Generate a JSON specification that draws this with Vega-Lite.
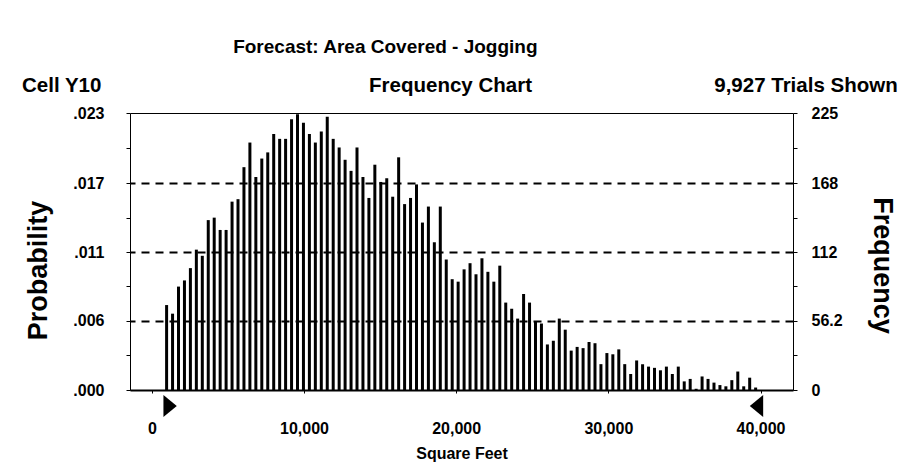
{
  "$schema": "https://vega.github.io/schema/vega-lite/v6.json",
  "width": 663,
  "height": 277,
  "autosize": {"type": "none"},
  "padding": {"left": 130, "top": 113, "right": 123, "bottom": 82},
  "background": "white",
  "config": {
    "font": "Liberation Sans",
    "view": {"stroke": "black", "strokeWidth": 1},
    "axis": {"labelFont": "Liberation Sans", "labelFontWeight": "bold", "labelColor": "black", "titleFont": "Liberation Sans", "titleFontWeight": "bold", "titleColor": "black", "tickColor": "black", "domain": false}
  },
  "title": {
    "text": "\u200b\u00a0\u00a0\u00a0\u00a0\u00a0\u00a0\u00a0\u00a0\u00a0\u00a0\u00a0\u00a0\u00a0\u00a0\u00a0\u00a0\u00a0\u00a0\u00a0\u00a0\u00a0\u00a0\u00a0\u00a0\u00a0\u00a0\u00a0\u00a0\u00a0\u00a0\u00a0\u00a0\u00a0\u00a0\u00a0\u00a0\u00a0\u00a0\u00a0\u00a0Forecast: Area Covered - Jogging",
    "subtitle": "Cell Y10\u00a0\u00a0\u00a0\u00a0\u00a0\u00a0\u00a0\u00a0\u00a0\u00a0\u00a0\u00a0\u00a0\u00a0\u00a0\u00a0\u00a0\u00a0\u00a0\u00a0\u00a0\u00a0\u00a0\u00a0\u00a0\u00a0\u00a0\u00a0\u00a0\u00a0\u00a0\u00a0\u00a0\u00a0\u00a0\u00a0\u00a0\u00a0\u00a0\u00a0\u00a0\u00a0\u00a0\u00a0\u00a0\u00a0\u00a0Frequency Chart\u00a0\u00a0\u00a0\u00a0\u00a0\u00a0\u00a0\u00a0\u00a0\u00a0\u00a0\u00a0\u00a0\u00a0\u00a0\u00a0\u00a0\u00a0\u00a0\u00a0\u00a0\u00a0\u00a0\u00a0\u00a0\u00a0\u00a0\u00a0\u00a0\u00a0\u00a0\u00a09,927 Trials Shown",
    "anchor": "start",
    "frame": "group",
    "dx": -108,
    "font": "Liberation Sans",
    "fontSize": 19,
    "fontWeight": "bold",
    "color": "black",
    "subtitleFont": "Liberation Sans",
    "subtitleFontSize": 20.5,
    "subtitleFontWeight": "bold",
    "subtitleColor": "black",
    "subtitlePadding": 19,
    "offset": 9
  },
  "datasets": {
    "bins": [
      {"sqft": 970, "count": 69}, {"sqft": 1361, "count": 62}, {"sqft": 1752, "count": 84}, {"sqft": 2143, "count": 89}, {"sqft": 2534, "count": 99},
      {"sqft": 2925, "count": 114}, {"sqft": 3316, "count": 109}, {"sqft": 3707, "count": 138}, {"sqft": 4098, "count": 140}, {"sqft": 4489, "count": 130},
      {"sqft": 4880, "count": 130}, {"sqft": 5271, "count": 153}, {"sqft": 5662, "count": 155}, {"sqft": 6053, "count": 181}, {"sqft": 6444, "count": 201},
      {"sqft": 6835, "count": 173}, {"sqft": 7226, "count": 188}, {"sqft": 7617, "count": 193}, {"sqft": 8008, "count": 208}, {"sqft": 8399, "count": 204},
      {"sqft": 8790, "count": 204}, {"sqft": 9181, "count": 220}, {"sqft": 9572, "count": 224}, {"sqft": 9963, "count": 217}, {"sqft": 10354, "count": 208},
      {"sqft": 10745, "count": 201}, {"sqft": 11136, "count": 210}, {"sqft": 11527, "count": 222}, {"sqft": 11918, "count": 204}, {"sqft": 12309, "count": 197},
      {"sqft": 12700, "count": 187}, {"sqft": 13091, "count": 178}, {"sqft": 13482, "count": 197}, {"sqft": 13873, "count": 173}, {"sqft": 14264, "count": 156},
      {"sqft": 14655, "count": 183}, {"sqft": 15046, "count": 169}, {"sqft": 15437, "count": 172}, {"sqft": 15828, "count": 157}, {"sqft": 16219, "count": 189},
      {"sqft": 16610, "count": 151}, {"sqft": 17001, "count": 156}, {"sqft": 17392, "count": 167}, {"sqft": 17783, "count": 136}, {"sqft": 18174, "count": 149},
      {"sqft": 18565, "count": 120}, {"sqft": 18956, "count": 149}, {"sqft": 19347, "count": 106}, {"sqft": 19738, "count": 90}, {"sqft": 20129, "count": 88},
      {"sqft": 20520, "count": 98}, {"sqft": 20911, "count": 103}, {"sqft": 21302, "count": 94}, {"sqft": 21693, "count": 107}, {"sqft": 22084, "count": 96},
      {"sqft": 22475, "count": 88}, {"sqft": 22866, "count": 101}, {"sqft": 23257, "count": 71}, {"sqft": 23648, "count": 66}, {"sqft": 24039, "count": 58},
      {"sqft": 24430, "count": 78}, {"sqft": 24821, "count": 71}, {"sqft": 25212, "count": 56}, {"sqft": 25603, "count": 54}, {"sqft": 25994, "count": 37},
      {"sqft": 26385, "count": 40}, {"sqft": 26776, "count": 58}, {"sqft": 27167, "count": 49}, {"sqft": 27558, "count": 32}, {"sqft": 27949, "count": 35},
      {"sqft": 28340, "count": 34}, {"sqft": 28731, "count": 39}, {"sqft": 29122, "count": 38}, {"sqft": 29513, "count": 21}, {"sqft": 29904, "count": 30},
      {"sqft": 30295, "count": 29}, {"sqft": 30686, "count": 33}, {"sqft": 31077, "count": 21}, {"sqft": 31468, "count": 13}, {"sqft": 31859, "count": 24},
      {"sqft": 32250, "count": 21}, {"sqft": 32641, "count": 19}, {"sqft": 33032, "count": 18}, {"sqft": 33423, "count": 16}, {"sqft": 33814, "count": 19},
      {"sqft": 34205, "count": 13}, {"sqft": 34596, "count": 19}, {"sqft": 34987, "count": 7}, {"sqft": 35378, "count": 9}, {"sqft": 35769, "count": 1},
      {"sqft": 36160, "count": 11}, {"sqft": 36551, "count": 9}, {"sqft": 36942, "count": 6}, {"sqft": 37333, "count": 4}, {"sqft": 37724, "count": 3},
      {"sqft": 38115, "count": 8}, {"sqft": 38506, "count": 15}, {"sqft": 38897, "count": 3}, {"sqft": 39288, "count": 10}, {"sqft": 39679, "count": 2}
    ],
    "grabbers": [
      {"sqft": 1200, "side": "left"},
      {"sqft": 39735, "side": "right"}
    ]
  },
  "encoding": {
    "x": {
      "field": "sqft",
      "type": "quantitative",
      "scale": {"domain": [-1107, 41806], "nice": false, "zero": false},
      "axis": {
        "values": [0, 10000, 20000, 30000, 40000],
        "labelExpr": "format(datum.value, ',.0f')",
        "title": "Square Feet",
        "labelFontSize": 16,
        "labelPadding": 27,
        "tickSize": 3,
        "grid": false,
        "domain": true,
        "domainColor": "black",
        "domainWidth": 2,
        "titleFontSize": 16,
        "titlePadding": 9
      }
    }
  },
  "layer": [
    {
      "data": {"name": "bins"},
      "mark": {"type": "bar", "orient": "vertical", "size": 3, "color": "black"},
      "encoding": {
        "y": {
          "field": "count",
          "type": "quantitative",
          "scale": {"domain": [0, 225], "nice": false, "zero": true},
          "axis": {
            "orient": "right",
            "title": "Frequency",
            "values": [0, 28.1, 56.2, 84.1, 112, 140, 168, 196.5, 225],
            "labelExpr": "datum.value == 225 ? '225' : datum.value == 168 ? '168' : datum.value == 112 ? '112' : datum.value == 56.2 ? '56.2' : datum.value == 0 ? '0' : ''",
            "labelFontSize": 16,
            "labelPadding": 14,
            "tickSize": 4,
            "titleFontSize": 27,
            "titlePadding": 25,
            "titleY": 152,
            "grid": true,
            "gridColor": "black",
            "gridWidth": 2,
            "gridDash": [8, 6],
            "gridOpacity": {"condition": {"test": "datum.value == 56.2 || datum.value == 112 || datum.value == 168", "value": 1}, "value": 0},
            "zindex": 1
          }
        }
      }
    },
    {
      "data": {"name": "bins"},
      "mark": {"type": "point", "opacity": 0},
      "encoding": {
        "y": {
          "field": "count",
          "type": "quantitative",
          "scale": {"domain": [0, 225], "nice": false, "zero": true},
          "axis": {
            "orient": "left",
            "title": "Probability",
            "values": [0, 28.1, 56.2, 84.1, 112, 140, 168, 196.5, 225],
            "labelExpr": "datum.value == 225 ? '.023' : datum.value == 168 ? '.017' : datum.value == 112 ? '.011' : datum.value == 56.2 ? '.006' : datum.value == 0 ? '.000' : ''",
            "labelFontSize": 16,
            "labelPadding": 22,
            "tickSize": 4,
            "titleFontSize": 27,
            "titlePadding": 20,
            "titleY": 157,
            "grid": false
          }
        }
      }
    },
    {
      "data": {"name": "grabbers"},
      "mark": {"type": "point", "filled": true, "color": "black", "opacity": 1, "size": 480, "yOffset": 16},
      "encoding": {
        "y": {"datum": 0, "type": "quantitative", "scale": {"domain": [0, 225], "nice": false}, "axis": null},
        "shape": {
          "field": "side",
          "type": "nominal",
          "scale": {"domain": ["left", "right"], "range": ["M-0.61,-1L0.61,0L-0.61,1Z", "M0.61,-1L-0.61,0L0.61,1Z"]},
          "legend": null
        }
      }
    }
  ],
  "resolve": {"scale": {"y": "independent"}}
}
